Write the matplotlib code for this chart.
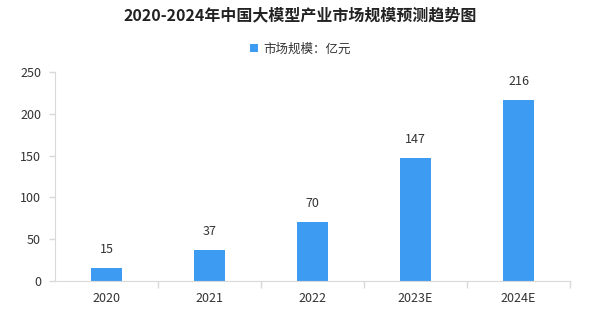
import matplotlib.pyplot as plt
import numpy as np

plt.rcParams['font.family'] = ['Noto Sans CJK SC', 'DejaVu Sans']

years = ['2020', '2021', '2022', '2023E', '2024E']
market_size = [15, 37, 70, 147, 216]
bar_color = '#3E9BF2'
axis_color = '#D9D9D9'
text_color = '#333333'

fig = plt.figure(figsize=(6.07, 3.22), dpi=100)
ax = fig.add_axes([55 / 607, 41 / 322, 515 / 607, 209 / 322])

x = np.arange(len(years))
bars = ax.bar(x, market_size, width=0.31, color=bar_color, label='市场规模：亿元')

# value labels above each bar
for xi, v in zip(x, market_size):
    ax.text(xi, v + 15, str(v), ha='center', va='bottom', fontsize=9, color=text_color)

ax.set_xlim(-0.5, len(years) - 0.5)
ax.set_ylim(0, 250)
ax.set_yticks(range(0, 251, 50))
ax.set_xticks(x)
ax.set_xticklabels(years)
ax.set_xticks(list(x[:-1] + 0.5) + [len(years) - 0.5], minor=True)

ax.tick_params(axis='x', which='major', length=0, pad=8, labelsize=9, labelcolor=text_color)
ax.tick_params(axis='x', which='minor', length=5, color=axis_color, width=1)
ax.tick_params(axis='y', length=4, color=axis_color, width=1, pad=6, labelsize=9, labelcolor=text_color)

for side in ['top', 'right']:
    ax.spines[side].set_visible(False)
ax.spines['left'].set_color(axis_color)
ax.spines['bottom'].set_color(axis_color)

fig.text(0.495, 0.952, '2020-2024年中国大模型产业市场规模预测趋势图', ha='center', va='center',
         fontsize=11.5, fontweight='bold', color='#222222')
fig.legend(handles=[bars], labels=['市场规模：亿元'], loc='center', bbox_to_anchor=(0.495, 0.848),
           frameon=False, fontsize=9, handlelength=0.6, handleheight=0.6, handletextpad=0.4,
           labelcolor=text_color)

fig.savefig('out.png', dpi=100, facecolor='white')
